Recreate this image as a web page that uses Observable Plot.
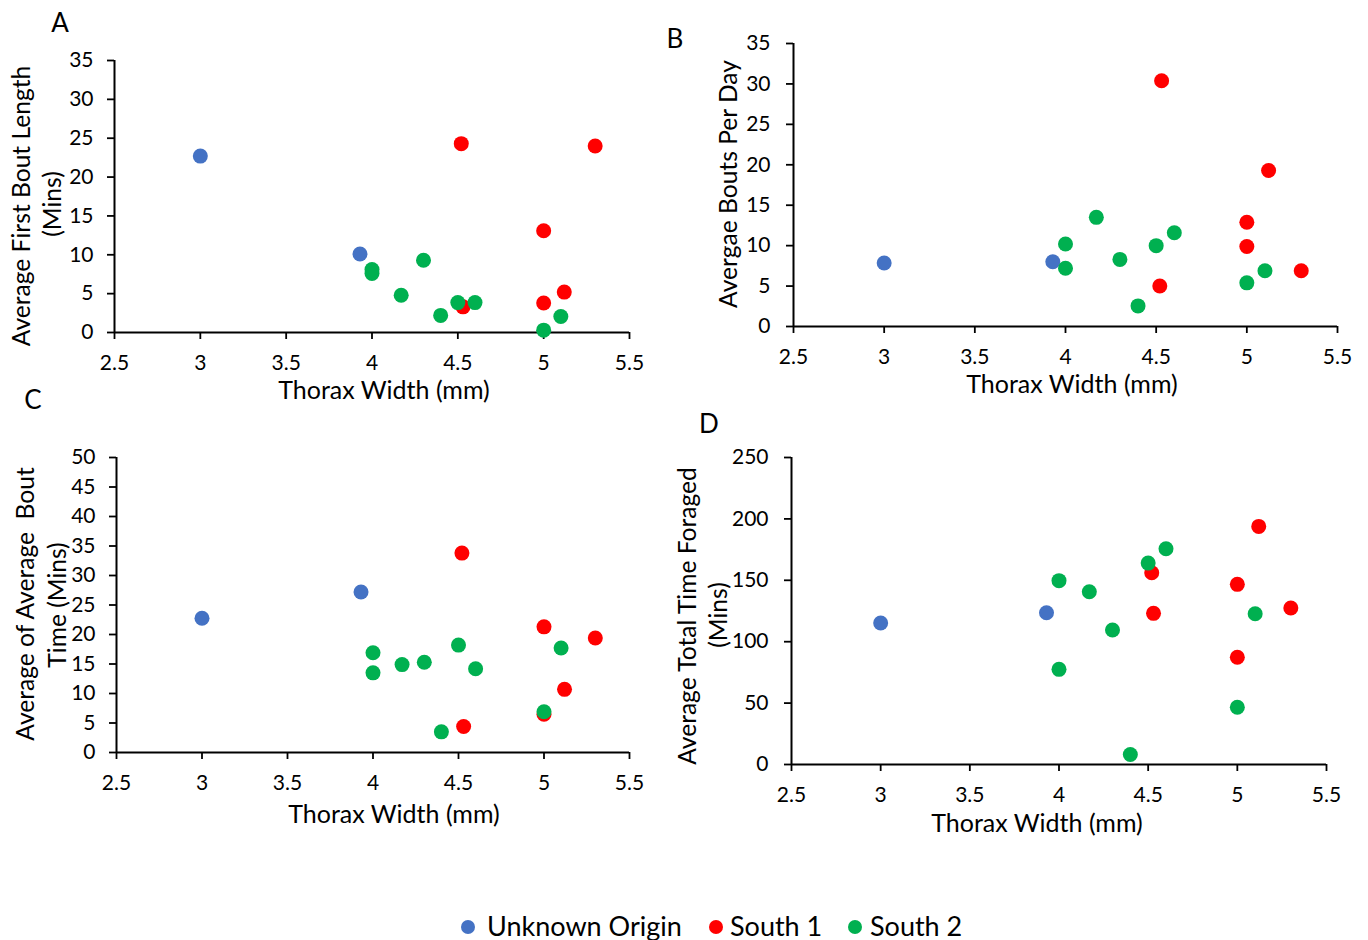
<!DOCTYPE html>
<html>
<head>
<meta charset="utf-8">
<script src="https://cdn.jsdelivr.net/npm/d3@7"></script>
<script src="https://cdn.jsdelivr.net/npm/@observablehq/plot@0.6"></script>
<style>
  html, body { margin: 0; padding: 0; background: #fff; }
  #root { position: relative; width: 1368px; height: 940px; background: #fff; font-family: Lato, "Open Sans", sans-serif; color: #000; overflow: hidden; }
  .plot { position: absolute; }
  .ylab { position: absolute; white-space: nowrap; line-height: 0.9; transform: translate(-50%, -50%) rotate(-90deg); font-size: 24.6px; }
  .xlab { position: absolute; white-space: nowrap; line-height: 0.9; transform: translate(-50%, -50%); font-size: 25px; }
  .letter { position: absolute; font-size: 26px; line-height: 1; transform: translate(-50%, -50%); }
  .leg { position: absolute; font-size: 27px; line-height: 1; white-space: nowrap; transform: translateY(-50%); }
  .legdot { position: absolute; width: 14px; height: 14px; border-radius: 50%; transform: translate(-50%, -50%); }
</style>
</head>
<body>
<div id="root"></div>
<script>
// ---- Data ----
const groups = ["Unknown Origin", "South 1", "South 2"];
const groupColors = ["#4472C4", "#FF0000", "#00B050"];

// Thorax widths (mm) per group
const unknownWidth = [3.0, 3.93];
const south1Width = [4.52, 4.53, 5.0, 5.0, 5.12, 5.3];
const south2Width = [4.0, 4.0, 4.17, 4.3, 4.4, 4.5, 4.6, 5.0, 5.1];

// A: Average First Bout Length (Mins)
const firstBoutUnknown = [22.7, 10.1];
const firstBoutSouth1 = [24.3, 3.3, 13.1, 3.8, 5.2, 24.0];
const firstBoutSouth2 = [8.1, 7.6, 4.8, 9.3, 2.2, 3.85, 3.85, 0.3, 2.05];

// B: Average Bouts Per Day
const boutsUnknown = [7.85, 8.0];
const boutsSouth1 = [5.0, 30.4, 12.9, 9.9, 19.3, 6.9];
const boutsSouth2 = [10.2, 7.2, 13.5, 8.3, 2.55, 10.0, 11.6, 5.4, 6.9];

// C: Average of Average Bout Time (Mins)
const boutTimeUnknown = [22.75, 27.2];
const boutTimeSouth1 = [33.8, 4.4, 21.3, 6.5, 10.7, 19.4];
const boutTimeSouth2 = [16.9, 13.5, 14.9, 15.3, 3.5, 18.2, 14.2, 6.9, 17.7];

// D: Average Total Time Foraged (Mins)
const totalUnknown = [115.2, 123.6];
const totalSouth1 = [156.2, 123.1, 146.7, 87.3, 193.9, 127.4];
const totalSouth2 = [149.7, 77.5, 140.7, 109.5, 8.1, 164.0, 175.7, 46.6, 122.8];

// Tick values
const xTicks = [2.5, 3, 3.5, 4, 4.5, 5, 5.5];
const yTicksA = [0, 5, 10, 15, 20, 25, 30, 35];
const yTicksB = [0, 5, 10, 15, 20, 25, 30, 35];
const yTicksC = [0, 5, 10, 15, 20, 25, 30, 35, 40, 45, 50];
const yTicksD = [0, 50, 100, 150, 200, 250];

const widths = [unknownWidth, south1Width, south2Width];

function buildRows(series) {
  const rows = [];
  groups.forEach((g, i) => {
    series[i].forEach((v, j) => rows.push({ group: g, width: widths[i][j], value: v }));
  });
  return rows;
}

const root = document.getElementById("root");

function panel(cfg) {
  const rows = buildRows(cfg.series);
  const chart = Plot.plot({
    width: cfg.width,
    height: cfg.height,
    marginLeft: cfg.ml,
    marginRight: cfg.mr,
    marginTop: cfg.mt,
    marginBottom: cfg.mb,
    x: { domain: [2.5, 5.5] },
    y: { domain: cfg.yDomain },
    color: { domain: groups, range: groupColors },
    style: { fontFamily: "Lato, 'Open Sans', sans-serif", fontSize: "21px", color: "#000", background: "transparent", overflow: "visible" },
    marks: [
      Plot.axisX({ ticks: xTicks, tickSize: 7, tickPadding: 16, tickFormat: d => String(d), label: null, strokeWidth: 1.8 }),
      Plot.axisY({ ticks: cfg.yTicks, tickSize: 7, tickPadding: cfg.ypad, tickFormat: d => String(d), label: null, strokeWidth: 1.8 }),
      Plot.ruleY([cfg.yDomain[0]], { stroke: "#000", strokeWidth: 2 }),
      Plot.ruleX([2.5], { stroke: "#000", strokeWidth: 2 }),
      Plot.dot(rows, { x: "width", y: "value", fill: "group", r: 7.5 })
    ]
  });
  chart.classList.add("plot");
  chart.style.left = cfg.left + "px";
  chart.style.top = cfg.top + "px";
  root.appendChild(chart);
}

// Panel A: plot area x 114..629, y 60..332
panel({ left: 0, top: 0, width: 660, height: 400, ml: 114, mr: 31, mt: 60, mb: 68, ypad: 14,
  yDomain: [0, 35], yTicks: yTicksA, series: [firstBoutUnknown, firstBoutSouth1, firstBoutSouth2] });
// Panel B: plot area x 793..1337, y 43..326
panel({ left: 660, top: 0, width: 708, height: 400, ml: 133, mr: 31, mt: 43, mb: 74, ypad: 16,
  yDomain: [0, 35], yTicks: yTicksB, series: [boutsUnknown, boutsSouth1, boutsSouth2] });
// Panel C: plot area x 116..629, y 457..752
panel({ left: 0, top: 400, width: 660, height: 440, ml: 116, mr: 31, mt: 57, mb: 88, ypad: 14,
  yDomain: [0, 50], yTicks: yTicksC, series: [boutTimeUnknown, boutTimeSouth1, boutTimeSouth2] });
// Panel D: plot area x 791..1326, y 457..764
panel({ left: 660, top: 400, width: 708, height: 440, ml: 131, mr: 42, mt: 57, mb: 76, ypad: 16,
  yDomain: [0, 250], yTicks: yTicksD, series: [totalUnknown, totalSouth1, totalSouth2] });

// Text overlays
function addText(cls, text, x, y) {
  const d = document.createElement("div");
  d.className = cls;
  d.textContent = text;
  d.style.left = x + "px";
  d.style.top = y + "px";
  root.appendChild(d);
  return d;
}
addText("letter", "A", 60, 22);
addText("letter", "B", 675, 38);
addText("letter", "C", 33, 399);
addText("letter", "D", 709, 423);

addText("ylab", "Average First Bout Length", 21, 206);
addText("ylab", "(Mins)", 52, 204);
addText("ylab", "Avergae Bouts Per Day", 728, 184);
addText("ylab", "Average of Average  Bout", 25, 604).style.whiteSpace = "pre";
addText("ylab", "Time (Mins)", 57, 605);
addText("ylab", "Average Total Time Foraged", 687, 616);
addText("ylab", "(Mins)", 718, 615);

addText("xlab", "Thorax Width (mm)", 384, 389);
addText("xlab", "Thorax Width (mm)", 1072, 383);
addText("xlab", "Thorax Width (mm)", 394, 813);
addText("xlab", "Thorax Width (mm)", 1037, 822);

// Legend
const legendDotX = [468, 716, 855];
const legendTextX = [487, 730, 870];
groups.forEach((g, i) => {
  const dot = document.createElement("div");
  dot.className = "legdot";
  dot.style.left = legendDotX[i] + "px";
  dot.style.top = "927px";
  dot.style.background = groupColors[i];
  root.appendChild(dot);
  addText("leg", g, legendTextX[i], 925);
});
</script>
</body>
</html>
